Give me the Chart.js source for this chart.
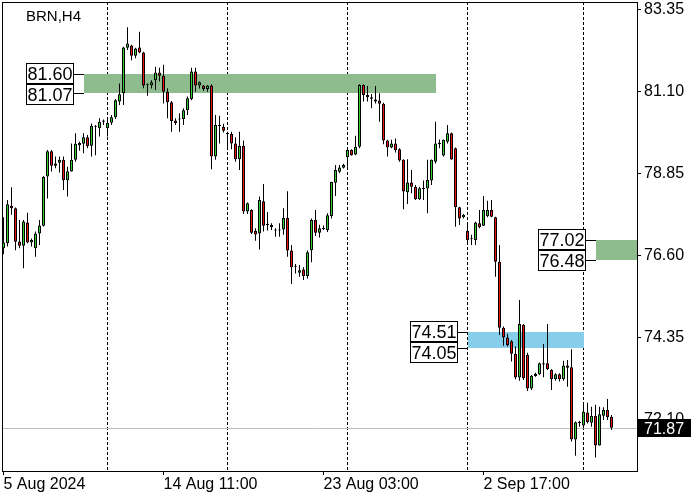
<!DOCTYPE html>
<html>
<head>
<meta charset="utf-8">
<script src="https://cdn.jsdelivr.net/npm/chart.js@4.4.1/dist/chart.umd.min.js"></script>
<style>
  body { margin: 0; background: #fff; }
  canvas { display: block; }
</style>
</head>
<body>
<canvas id="brn" width="700" height="500"></canvas>
<script>
// BRN H4 candles (one value per bar)
const opens = [
  76.80, 76.94, 77.97, 77.90, 76.99, 76.87, 77.51, 76.96, 76.80, 77.21,
  77.42, 78.77, 79.47, 79.07, 79.15, 79.23, 78.67, 78.91, 79.23, 79.63,
  79.67, 79.85, 79.62, 80.14, 80.10, 80.28, 80.10, 80.25, 80.40, 80.83,
  81.06, 82.31, 82.37, 82.09, 82.32, 82.18, 81.28, 81.27, 81.42, 81.63,
  81.54, 81.10, 80.81, 80.31, 80.35, 80.35, 80.59, 80.90, 81.66, 81.27,
  81.27, 81.18, 81.27, 79.32, 80.19, 80.14, 79.95, 79.94, 79.68, 79.25,
  79.61, 77.81, 77.85, 77.28, 77.21, 78.09, 77.44, 77.44, 77.30, 77.29,
  77.32, 77.63, 76.74, 76.29, 76.13, 76.22, 76.04, 76.75, 77.58, 77.23,
  77.35, 77.30, 77.69, 78.60, 78.90, 79.01, 79.30, 79.50, 79.38, 79.59,
  81.29, 81.01, 80.95, 80.89, 80.86, 80.77, 79.76, 79.57, 79.68, 79.52,
  79.23, 78.34, 78.61, 78.49, 78.15, 78.44, 78.44, 78.66, 79.18, 79.66,
  79.35, 79.73, 79.96, 79.55, 77.93, 77.65, 77.28, 77.06, 77.03, 77.49,
  77.42, 77.69, 77.85, 77.65, 76.43, 74.62, 74.35, 74.25, 73.90, 73.25,
  74.69, 73.87, 72.95, 73.29, 73.34, 73.64, 73.64, 73.46, 73.20, 73.34,
  73.20, 73.58, 73.53, 71.55, 72.02, 71.93, 72.29, 72.01, 72.19, 71.38,
  72.20, 72.36, 72.17
];
const highs = [
  77.65, 78.13, 78.48, 77.92, 77.58, 77.58, 77.78, 77.07, 77.26, 77.58,
  78.79, 79.50, 79.50, 79.32, 79.32, 79.32, 79.04, 79.68, 79.96, 79.73,
  79.96, 79.91, 80.23, 80.19, 80.37, 80.34, 80.37, 80.46, 80.90, 81.33,
  82.34, 82.87, 82.39, 82.31, 82.75, 82.20, 81.33, 81.42, 81.79, 81.76,
  81.84, 81.20, 80.85, 80.37, 80.51, 80.65, 80.97, 81.76, 81.76, 81.38,
  81.29, 81.29, 81.31, 80.46, 80.44, 80.22, 80.00, 80.00, 79.85, 80.00,
  79.76, 78.06, 77.87, 77.35, 78.22, 78.57, 77.80, 77.49, 77.35, 77.49,
  77.90, 78.37, 76.89, 76.37, 76.34, 76.28, 76.74, 77.62, 77.85, 77.45,
  77.43, 77.76, 78.63, 79.09, 79.09, 79.12, 79.55, 79.52, 79.89, 81.31,
  81.31, 81.26, 81.04, 81.26, 81.06, 80.80, 79.78, 79.78, 79.82, 79.55,
  79.25, 79.25, 78.95, 78.54, 78.49, 78.66, 79.23, 79.24, 80.28, 79.79,
  79.79, 80.19, 79.98, 79.57, 77.94, 77.74, 77.49, 77.17, 77.53, 77.85,
  78.24, 78.11, 78.13, 77.67, 76.89, 74.65, 74.45, 74.28, 74.10, 75.38,
  74.72, 73.93, 73.32, 73.38, 73.66, 74.17, 74.72, 73.48, 73.37, 73.37,
  73.71, 73.73, 74.03, 72.04, 72.06, 72.54, 72.56, 72.45, 72.50, 72.45,
  72.43, 72.66, 72.22
];
const lows = [
  76.64, 76.85, 77.72, 76.75, 76.80, 76.25, 76.94, 76.85, 76.57, 76.89,
  77.40, 78.17, 78.91, 79.00, 78.88, 78.40, 78.22, 78.91, 79.18, 79.48,
  79.41, 79.55, 79.32, 79.36, 79.87, 80.19, 79.87, 80.19, 80.35, 80.74,
  80.74, 82.25, 81.97, 82.02, 82.16, 81.20, 80.99, 81.19, 81.15, 81.38,
  80.78, 80.37, 80.00, 80.19, 80.00, 80.19, 80.46, 80.87, 81.10, 81.19,
  81.12, 81.10, 78.97, 79.23, 79.68, 79.98, 79.55, 79.52, 79.18, 78.95,
  77.74, 77.74, 77.19, 77.01, 76.77, 77.26, 77.29, 77.30, 77.12, 77.12,
  77.17, 76.57, 75.82, 76.11, 76.02, 75.93, 75.97, 76.42, 77.14, 77.10,
  77.30, 77.25, 77.62, 78.24, 78.86, 78.99, 79.04, 79.34, 79.36, 79.55,
  80.83, 80.83, 80.65, 80.78, 80.28, 79.66, 79.32, 79.55, 79.43, 79.18,
  77.87, 78.02, 78.31, 78.13, 78.13, 78.13, 77.76, 78.54, 79.13, 79.55,
  79.32, 79.68, 79.23, 77.39, 77.44, 77.62, 76.89, 76.89, 76.89, 77.35,
  77.41, 77.65, 77.65, 76.02, 74.42, 74.12, 74.10, 73.69, 73.20, 73.16,
  73.18, 72.88, 72.91, 73.27, 73.32, 73.26, 73.46, 72.91, 73.16, 73.14,
  73.16, 73.00, 71.49, 71.10, 71.90, 71.85, 71.99, 71.90, 71.05, 71.38,
  72.08, 72.08, 71.81
];
const closes = [
  76.96, 78.01, 77.90, 76.98, 76.87, 77.54, 76.96, 77.03, 77.21, 77.43,
  78.76, 79.47, 79.07, 79.13, 79.23, 78.67, 78.92, 79.23, 79.67, 79.69,
  79.85, 79.61, 80.16, 80.15, 80.28, 80.31, 80.25, 80.40, 80.87, 81.03,
  82.32, 82.43, 82.09, 82.29, 82.18, 81.27, 81.30, 81.36, 81.63, 81.54,
  81.10, 80.81, 80.30, 80.24, 80.34, 80.59, 80.92, 81.66, 81.27, 81.36,
  81.18, 81.27, 79.32, 80.19, 80.16, 80.03, 79.94, 79.68, 79.25, 79.61,
  77.81, 78.04, 77.23, 77.18, 78.13, 77.42, 77.47, 77.38, 77.29, 77.30,
  77.63, 76.74, 76.28, 76.30, 76.20, 76.04, 76.69, 77.58, 77.23, 77.35,
  77.33, 77.71, 78.62, 78.95, 79.02, 79.09, 79.50, 79.36, 79.59, 81.29,
  81.01, 80.95, 80.91, 80.83, 80.77, 79.76, 79.57, 79.68, 79.50, 79.21,
  78.36, 78.61, 78.49, 78.15, 78.45, 78.43, 78.68, 79.23, 79.68, 79.70,
  79.78, 79.96, 79.24, 77.93, 77.62, 77.72, 77.03, 77.05, 77.51, 77.38,
  77.85, 77.85, 77.67, 76.43, 74.62, 74.35, 74.14, 73.90, 73.25, 74.72,
  73.23, 72.95, 73.30, 73.35, 73.64, 73.61, 73.48, 73.20, 73.34, 73.20,
  73.58, 73.52, 71.55, 72.02, 72.00, 72.31, 72.02, 72.19, 71.38, 72.24,
  72.36, 72.16, 71.87
];

const symbol = 'BRN,H4';
const yTicks = [72.10, 74.35, 76.60, 78.85, 81.10, 83.35];
const dateLabels = ['5 Aug 2024', '14 Aug 11:00', '23 Aug 03:00', '2 Sep 17:00'];
const dateBars = [0, 40, 80, 120];
const gridBars = [26, 56, 86, 116, 145];
const lastPrice = 71.87;

// support / resistance zones
const zoneHigh = [81.60, 77.02, 74.51];
const zoneLow = [81.07, 76.48, 74.05];
const zoneFrom = [20, 148, 116];
const zoneTo = [108, null, 145];
const zoneColors = ['#8fbc8f', '#8fbc8f', '#87ceeb'];

const UP = '#32cd32', DOWN = '#ee1111';
Chart.defaults.font.family = '"Liberation Sans", Arial, sans-serif';

const bodies = opens.map((o, i) => ({ x: i, y: [o, closes[i]] }));
const wicks = lows.map((l, i) => ({ x: i, y: [l, highs[i]] }));
const bodyColors = opens.map((o, i) => closes[i] > o ? UP : (closes[i] < o ? DOWN : '#000'));

const overlay = {
  id: 'overlay',
  beforeDatasetsDraw(chart) {
    const { ctx, chartArea: a, scales: { x, y } } = chart;
    ctx.save();
    zoneHigh.forEach((hi, k) => {
      const x0 = Math.round(x.getPixelForValue(zoneFrom[k]));
      const x1 = zoneTo[k] == null ? a.right : Math.round(x.getPixelForValue(zoneTo[k]));
      const y0 = Math.round(y.getPixelForValue(hi));
      const y1 = Math.round(y.getPixelForValue(zoneLow[k]));
      ctx.fillStyle = zoneColors[k];
      ctx.fillRect(x0, y0, x1 - x0, y1 - y0);
    });
    const py = Math.round(y.getPixelForValue(lastPrice)) + 0.5;
    ctx.strokeStyle = '#c0c0c0';
    ctx.lineWidth = 1;
    ctx.beginPath();
    ctx.moveTo(a.left, py);
    ctx.lineTo(a.right, py);
    ctx.stroke();
    ctx.restore();
  },
  afterDatasetsDraw(chart) {
    const { ctx, chartArea: a, scales: { x, y } } = chart;
    ctx.save();
    ctx.lineWidth = 1;
    ctx.strokeStyle = '#000';

    // zone price tags
    ctx.font = '18px "Liberation Sans"';
    ctx.textAlign = 'center';
    ctx.textBaseline = 'alphabetic';
    zoneHigh.forEach((hi, k) => {
      const x0 = Math.round(x.getPixelForValue(zoneFrom[k]));
      const bw = 48, bh = 20;
      const bx = x0 - 10 - bw;
      let prevBottom = -1e9;
      [hi, zoneLow[k]].forEach(v => {
        const ly = Math.round(y.getPixelForValue(v));
        const top = Math.max(ly - 11, prevBottom + 1);
        prevBottom = top + bh;
        ctx.fillStyle = '#fff';
        ctx.fillRect(bx, top, bw, bh);
        ctx.strokeRect(bx + 0.5, top + 0.5, bw - 1, bh);
        ctx.fillStyle = '#000';
        ctx.fillText(v.toFixed(2), bx + bw / 2, top + 17);
        ctx.beginPath();
        ctx.moveTo(bx + bw, ly + 0.5);
        ctx.lineTo(x0, ly + 0.5);
        ctx.stroke();
      });
    });

    // frame
    ctx.strokeRect(a.left + 0.5, a.top + 0.5, a.right - a.left, a.bottom - a.top);

    // symbol
    ctx.font = '15px "Liberation Sans"';
    ctx.textAlign = 'left';
    ctx.fillStyle = '#000';
    ctx.fillText(symbol, 26, 21);

    // last price tag on the axis
    const py = Math.round(y.getPixelForValue(lastPrice));
    ctx.fillStyle = '#000';
    ctx.fillRect(a.right, py - 9, 54, 18);
    ctx.fillStyle = '#fff';
    ctx.font = '16px "Liberation Sans"';
    ctx.fillText(lastPrice.toFixed(2), a.right + 7, py + 6);
    ctx.restore();
  }
};

new Chart(document.getElementById('brn'), {
  type: 'bar',
  data: {
    datasets: [
      {
        data: bodies,
        backgroundColor: bodyColors,
        borderColor: '#000',
        borderWidth: 1,
        borderSkipped: false,
        barThickness: 3,
        minBarLength: 1,
        grouped: false,
        inflateAmount: 0
      },
      {
        data: wicks,
        backgroundColor: '#000',
        borderWidth: 0,
        barThickness: 1,
        grouped: false,
        inflateAmount: 0
      }
    ]
  },
  options: {
    responsive: false,
    animation: false,
    devicePixelRatio: 1,
    events: [],
    layout: { padding: { left: 2, top: 2, right: 0, bottom: 0 } },
    plugins: { legend: { display: false }, tooltip: { enabled: false } },
    scales: {
      x: {
        type: 'linear',
        min: -0.375,
        max: 158.375,
        offset: false,
        afterBuildTicks: s => {
          s.ticks = [...dateBars, ...gridBars].sort((p, q) => p - q).map(v => ({ value: v }));
        },
        afterFit: s => { s.height = 29; s.paddingLeft = 0; s.paddingRight = 0; },
        ticks: {
          autoSkip: false,
          maxRotation: 0,
          align: 'start',
          padding: 0,
          color: '#000',
          font: { size: 16 },
          callback: v => {
            const k = dateBars.indexOf(v);
            return k < 0 ? '' : dateLabels[k];
          }
        },
        grid: {
          offset: false,
          color: c => (c.tick && gridBars.includes(c.tick.value)) ? '#000' : 'rgba(0,0,0,0)',
          tickColor: c => (c.tick && dateBars.includes(c.tick.value)) ? '#000' : 'rgba(0,0,0,0)',
          tickLength: 4,
          lineWidth: 1
        },
        border: { display: true, color: '#000', dash: [3, 2] }
      },
      y: {
        position: 'right',
        min: 70.682,
        max: 83.567,
        afterBuildTicks: s => { s.ticks = yTicks.map(v => ({ value: v })); },
        afterFit: s => { s.width = 63; s.paddingTop = 0; s.paddingBottom = 0; },
        ticks: {
          padding: 3,
          color: '#000',
          font: { size: 16 },
          callback: v => v.toFixed(2)
        },
        grid: { drawOnChartArea: false, tickLength: 4, tickColor: '#000', color: '#000' },
        border: { color: '#000' }
      }
    }
  },
  plugins: [overlay]
});
</script>
</body>
</html>
